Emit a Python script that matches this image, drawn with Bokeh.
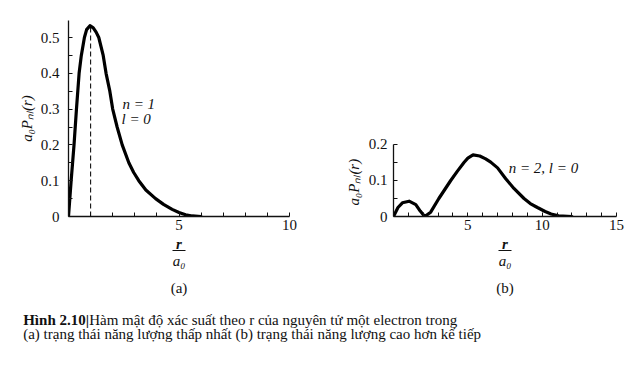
from bokeh.plotting import figure
from bokeh.layouts import column, row
from bokeh.models import Range1d, FixedTicker, Title
from bokeh.embed import file_html
from bokeh.resources import INLINE

# ---- data ----
# (a) n = 1, l = 0
xa = [0, 0.12, 0.25, 0.36, 0.48, 0.58, 0.72, 0.82, 0.97, 1.12, 1.25, 1.37, 1.57, 1.70, 1.87,
      2.0, 2.2, 2.43, 2.73, 2.95, 3.18, 3.5, 3.94, 4.3, 4.69, 5.0, 5.3, 5.6, 6.0]
ya = [0, 0.1, 0.2, 0.3, 0.4, 0.45, 0.5, 0.522, 0.533, 0.527, 0.515, 0.5, 0.45, 0.4, 0.35,
      0.3, 0.25, 0.2, 0.15, 0.123, 0.1, 0.074, 0.05, 0.034, 0.02, 0.011, 0.005, 0.0015, 0]
peak_x = [1.0, 1.0]
peak_y = [0, 0.533]

# (b) n = 2, l = 0
xb = [0, 0.3, 0.6, 1.05, 1.5, 1.8, 2.1, 2.5, 3.05, 3.45, 3.85, 4.3, 4.74, 5.0, 5.35, 5.8,
      6.2, 6.54, 7.0, 7.55, 8.1, 8.78, 9.2, 9.68, 10.2, 10.6, 11.1, 12.0]
yb = [0, 0.025, 0.038, 0.0425, 0.033, 0.015, 0.0, 0.012, 0.05, 0.075, 0.1, 0.126, 0.15, 0.162,
      0.171, 0.168, 0.16, 0.151, 0.135, 0.105, 0.078, 0.05, 0.036, 0.025, 0.014, 0.007, 0.002, 0]

a_yticks = [0, 0.1, 0.2, 0.3, 0.4, 0.5]
a_yminor = [0.05, 0.15, 0.25, 0.35, 0.45]
a_ylabels = ["0", "0.1", "0.2", "0.3", "0.4", "0.5"]
a_xticks = [5, 10]
a_xminor = [1, 2, 3, 4, 6, 7, 8, 9]

b_yticks = [0, 0.1, 0.2]
b_yminor = [0.05, 0.15]
b_ylabels = ["0", "0.1", "0.2"]
b_xticks = [5, 10, 15]
b_xminor = [1, 2, 3, 4, 6, 7, 8, 9, 11, 12, 13, 14]

ylabel = "a₀Pₙₗ(r)"
tags = ["(a)", "(b)"]
caption_bold = "Hình 2.10|"
caption_1 = " Hàm mật độ xác suất theo r của nguyên tử một electron trong"
caption_2 = "(a) trạng thái năng lượng thấp nhất (b) trạng thái năng lượng cao hơn kế tiếp"

SERIF = "Liberation Serif"
INK = "#111111"


def style(p, yticks, yminor, ylabels, xticks, xminor):
    p.xgrid.visible = False
    p.ygrid.visible = False
    p.outline_line_color = None
    p.background_fill_color = "white"
    p.border_fill_color = "white"
    p.yaxis.ticker = FixedTicker(ticks=yticks, minor_ticks=yminor)
    p.xaxis.ticker = FixedTicker(ticks=xticks, minor_ticks=xminor)
    p.yaxis.major_label_overrides = {t: s for t, s in zip(yticks, ylabels)}
    for ax in (p.xaxis, p.yaxis):
        ax.axis_line_color = INK
        ax.axis_line_width = 1.3
        ax.major_tick_line_color = INK
        ax.minor_tick_line_color = INK
        ax.major_tick_in = 4
        ax.major_tick_out = 0
        ax.minor_tick_in = 4
        ax.minor_tick_out = 0
        ax.major_label_text_font = SERIF
        ax.major_label_text_font_size = "15px"
        ax.major_label_text_color = INK
    p.xaxis.major_label_standoff = 3
    p.yaxis.major_label_standoff = 9


# ---- panel (a) ----
pa = figure(width=300, height=236, min_border_left=68, min_border_right=11,
            min_border_top=20, min_border_bottom=20,
            x_range=Range1d(0, 10), y_range=Range1d(0, 0.5475),
            toolbar_location=None, output_backend="svg")
style(pa, a_yticks, a_yminor, a_ylabels, a_xticks, a_xminor)
pa.yaxis.axis_label = ylabel
pa.yaxis.axis_label_text_font = SERIF
pa.yaxis.axis_label_text_font_style = "italic"
pa.yaxis.axis_label_text_font_size = "15px"
pa.yaxis.axis_label_text_color = INK
pa.yaxis.axis_label_standoff = 3
pa.line(peak_x, peak_y, line_color=INK, line_width=1.1, line_dash="5 3")
pa.line(xa, ya, line_color="black", line_width=3.2, line_join="round", line_cap="round")
pa.text(x=[2.44, 2.40], y=[0.313, 0.271], text=["n = 1", "l = 0"],
        text_font={"value": SERIF}, text_font_style="italic", text_font_size="15px",
        text_align="left", text_baseline="middle", text_color=INK)

# ---- panel (b) ----  (frame as tall as (a); the y axis only spans 0..0.2)
pb = figure(width=328, height=236, min_border_left=93, min_border_right=12,
            min_border_top=20, min_border_bottom=20,
            x_range=Range1d(0, 15), y_range=Range1d(0, 0.5444),
            toolbar_location=None, output_backend="svg")
style(pb, b_yticks, b_yminor, b_ylabels, b_xticks, b_xminor)
pb.yaxis.bounds = (0, 0.2)
pb.yaxis.major_label_standoff = 6
pb.add_layout(Title(text=ylabel, align="left", offset=11, standoff=7, text_font=SERIF,
                    text_font_style="italic", text_font_size="15px", text_color=INK), "left")
pb.line(xb, yb, line_color="black", line_width=3.2, line_join="round", line_cap="round")
pb.text(x=[7.75], y=[0.136], text=["n = 2, l = 0"],
        text_font={"value": SERIF}, text_font_style="italic", text_font_size="15px",
        text_align="left", text_baseline="middle", text_color=INK)

# ---- lower band: x-axis fractions, panel tags and caption (pixel space) ----
pc = figure(width=628, height=155, x_range=Range1d(0, 628), y_range=Range1d(155, 0),
            x_axis_type=None, y_axis_type=None, min_border=0, toolbar_location=None,
            output_backend="svg")
pc.outline_line_color = None
pc.xgrid.visible = False
pc.ygrid.visible = False
pc.background_fill_color = "white"
pc.border_fill_color = "white"
centers = [178.5, 504.5]
pc.text(x=centers, y=[7, 7], text=["r", "r"], text_font={"value": SERIF},
        text_font_style="bold italic", text_font_size="15px", text_align="center",
        text_baseline="middle", text_color=INK)
pc.segment(x0=[c - 6.5 for c in centers], y0=[14, 14], x1=[c + 6.5 for c in centers],
           y1=[14, 14], line_color=INK, line_width=1.2)
pc.text(x=centers, y=[24, 24], text=["a₀", "a₀"], text_font={"value": SERIF},
        text_font_style="italic", text_font_size="15px", text_align="center",
        text_baseline="middle", text_color=INK)
pc.text(x=centers, y=[51, 51], text=tags, text_font={"value": SERIF},
        text_font_size="15px", text_align="center", text_baseline="middle", text_color=INK)
pc.text(x=[22.7], y=[83], text=[caption_bold], text_font={"value": SERIF},
        text_font_style="bold", text_font_size="15px", text_align="left",
        text_baseline="middle", text_color=INK)
pc.text(x=[88.7, 22.7], y=[83, 97], text=[caption_1, caption_2], text_font={"value": SERIF},
        text_font_size="15px", text_align="left", text_baseline="middle", text_color=INK)

layout = column(row(pa, pb), pc)
open("out.html", "w").write(file_html(layout, INLINE))
